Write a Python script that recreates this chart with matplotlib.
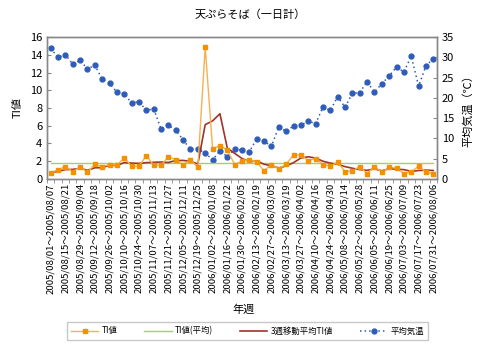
import numpy as np
import pandas as pd
import matplotlib
matplotlib.use("Agg")
import matplotlib.pyplot as plt

plt.rcParams['font.family'] = ['Noto Sans CJK JP', 'DejaVu Sans']

# Weekly categories: 2005/08/01 .. 2006/07/31 (week starts)
week_starts = pd.date_range("2005-08-01", "2006-07-31", freq="7D")
week_labels = [f"{d:%Y/%m/%d}～{d + pd.Timedelta(days=6):%Y/%m/%d}" for d in week_starts]

# TI value per week
ti_values = [0.71, 1.01, 1.39, 0.82, 1.35, 0.75, 1.65, 1.39, 1.61, 1.54,
             2.37, 1.43, 1.43, 2.63, 1.54, 1.54, 2.48, 2.18, 1.58, 2.14,
             1.31, 14.9, 3.41, 3.75, 3.27, 1.61, 2.03, 2.14, 1.88, 0.94,
             1.61, 1.13, 1.65, 2.70, 2.70, 2.07, 2.29, 1.61, 1.43, 1.88,
             0.82, 0.90, 1.39, 0.60, 1.39, 0.75, 1.31, 1.20, 0.60, 0.75,
             1.46, 0.75, 0.60]

# TI average (flat line)
ti_mean = 1.82

# 3-week moving average TI
ti_ma3 = [0.71, 0.86, 1.04, 1.07, 1.19, 0.97, 1.25, 1.26, 1.55, 1.51,
          1.84, 1.78, 1.74, 1.83, 1.87, 1.90, 1.85, 2.07, 2.08, 1.97,
          1.68, 6.12, 6.54, 7.35, 3.48, 2.88, 2.30, 1.93, 2.02, 1.65,
          1.48, 1.23, 1.46, 1.83, 2.35, 2.49, 2.35, 1.99, 1.78, 1.64,
          1.38, 1.20, 1.04, 0.96, 1.13, 0.91, 1.15, 1.09, 1.04, 0.85,
          0.94, 0.99, 0.94]

# Average temperature (deg C)
temps = [32.2, 30.0, 30.7, 28.3, 29.3, 27.1, 28.1, 24.6, 23.6, 21.4,
         21.0, 18.7, 19.1, 16.9, 17.3, 12.3, 13.2, 12.1, 9.6, 7.3,
         7.3, 6.4, 4.7, 6.9, 5.5, 7.3, 7.1, 6.7, 9.9, 9.3,
         8.0, 12.9, 11.7, 13.1, 13.2, 14.3, 13.6, 17.7, 16.9, 20.3,
         17.7, 21.1, 21.3, 24.0, 21.4, 23.5, 25.4, 27.6, 26.4, 30.3,
         22.9, 27.9, 29.7]

x = np.arange(len(week_labels))
frame_color = "#888888"

fig = plt.figure(figsize=(5, 3.57), dpi=100)
ax = fig.add_axes([0.094, 0.499, 0.780, 0.397])
ax2 = ax.twinx()

ax2.plot(x, temps, color="#2E5CB8", linestyle=(0, (1, 2)), linewidth=1.1,
         marker="o", markersize=3.5, label="平均気温", zorder=2)
ax.plot(x, ti_values, color="#F7B050", linewidth=1.0, marker="s",
        markersize=3.5, markerfacecolor="#F39200", markeredgecolor="#F39200",
        label="TI値", zorder=3)
ax.plot(x, [ti_mean] * len(x), color="#A8D060", linewidth=1.0, label="TI値(平均)")
ax.plot(x, ti_ma3, color="#A0342C", linewidth=1.2, label="3週移動平均TI値")

ax.set_zorder(ax2.get_zorder() + 1)
ax.patch.set_visible(False)

ax.set_xlim(-0.5, len(x) - 0.5)
ax.set_ylim(0, 16)
ax.set_yticks(range(0, 17, 2))
ax2.set_ylim(0, 35)
ax2.set_yticks(range(0, 36, 5))

ax.set_xticks(x[::2])
ax.set_xticklabels(week_labels[::2], rotation=90, fontsize=6.9)
ax.set_xticks(np.arange(-0.5, len(x), 1), minor=True)
ax.tick_params(axis="x", which="major", length=0, pad=3)
ax.tick_params(axis="x", which="minor", length=3, color=frame_color, direction="out")
ax.tick_params(axis="y", length=3, direction="in", color=frame_color, labelsize=8)
ax2.tick_params(axis="y", length=3, direction="in", color=frame_color, labelsize=8)

for a in (ax, ax2):
    for s in a.spines.values():
        s.set_color(frame_color)
        s.set_linewidth(1.0)

ax.set_ylabel("TI値", fontsize=8, labelpad=5)
ax2.set_ylabel("平均気温（℃）", fontsize=8, labelpad=6)
fig.text(0.487, 0.134, "年週", ha="center", va="center", fontsize=8)
fig.text(0.5, 0.958, "天ぷらそば（一日計）", ha="center", va="center", fontsize=8)

h1, l1 = ax.get_legend_handles_labels()
h2, l2 = ax2.get_legend_handles_labels()
fig.legend(h1 + h2, l1 + l2, loc="center", bbox_to_anchor=(0.495, 0.073),
           ncol=4, fontsize=6, frameon=True, fancybox=False, edgecolor="#BBBBBB",
           handlelength=3.3, handletextpad=0.4, columnspacing=3.2, borderpad=0.5)

fig.savefig("out.png", dpi=100)
